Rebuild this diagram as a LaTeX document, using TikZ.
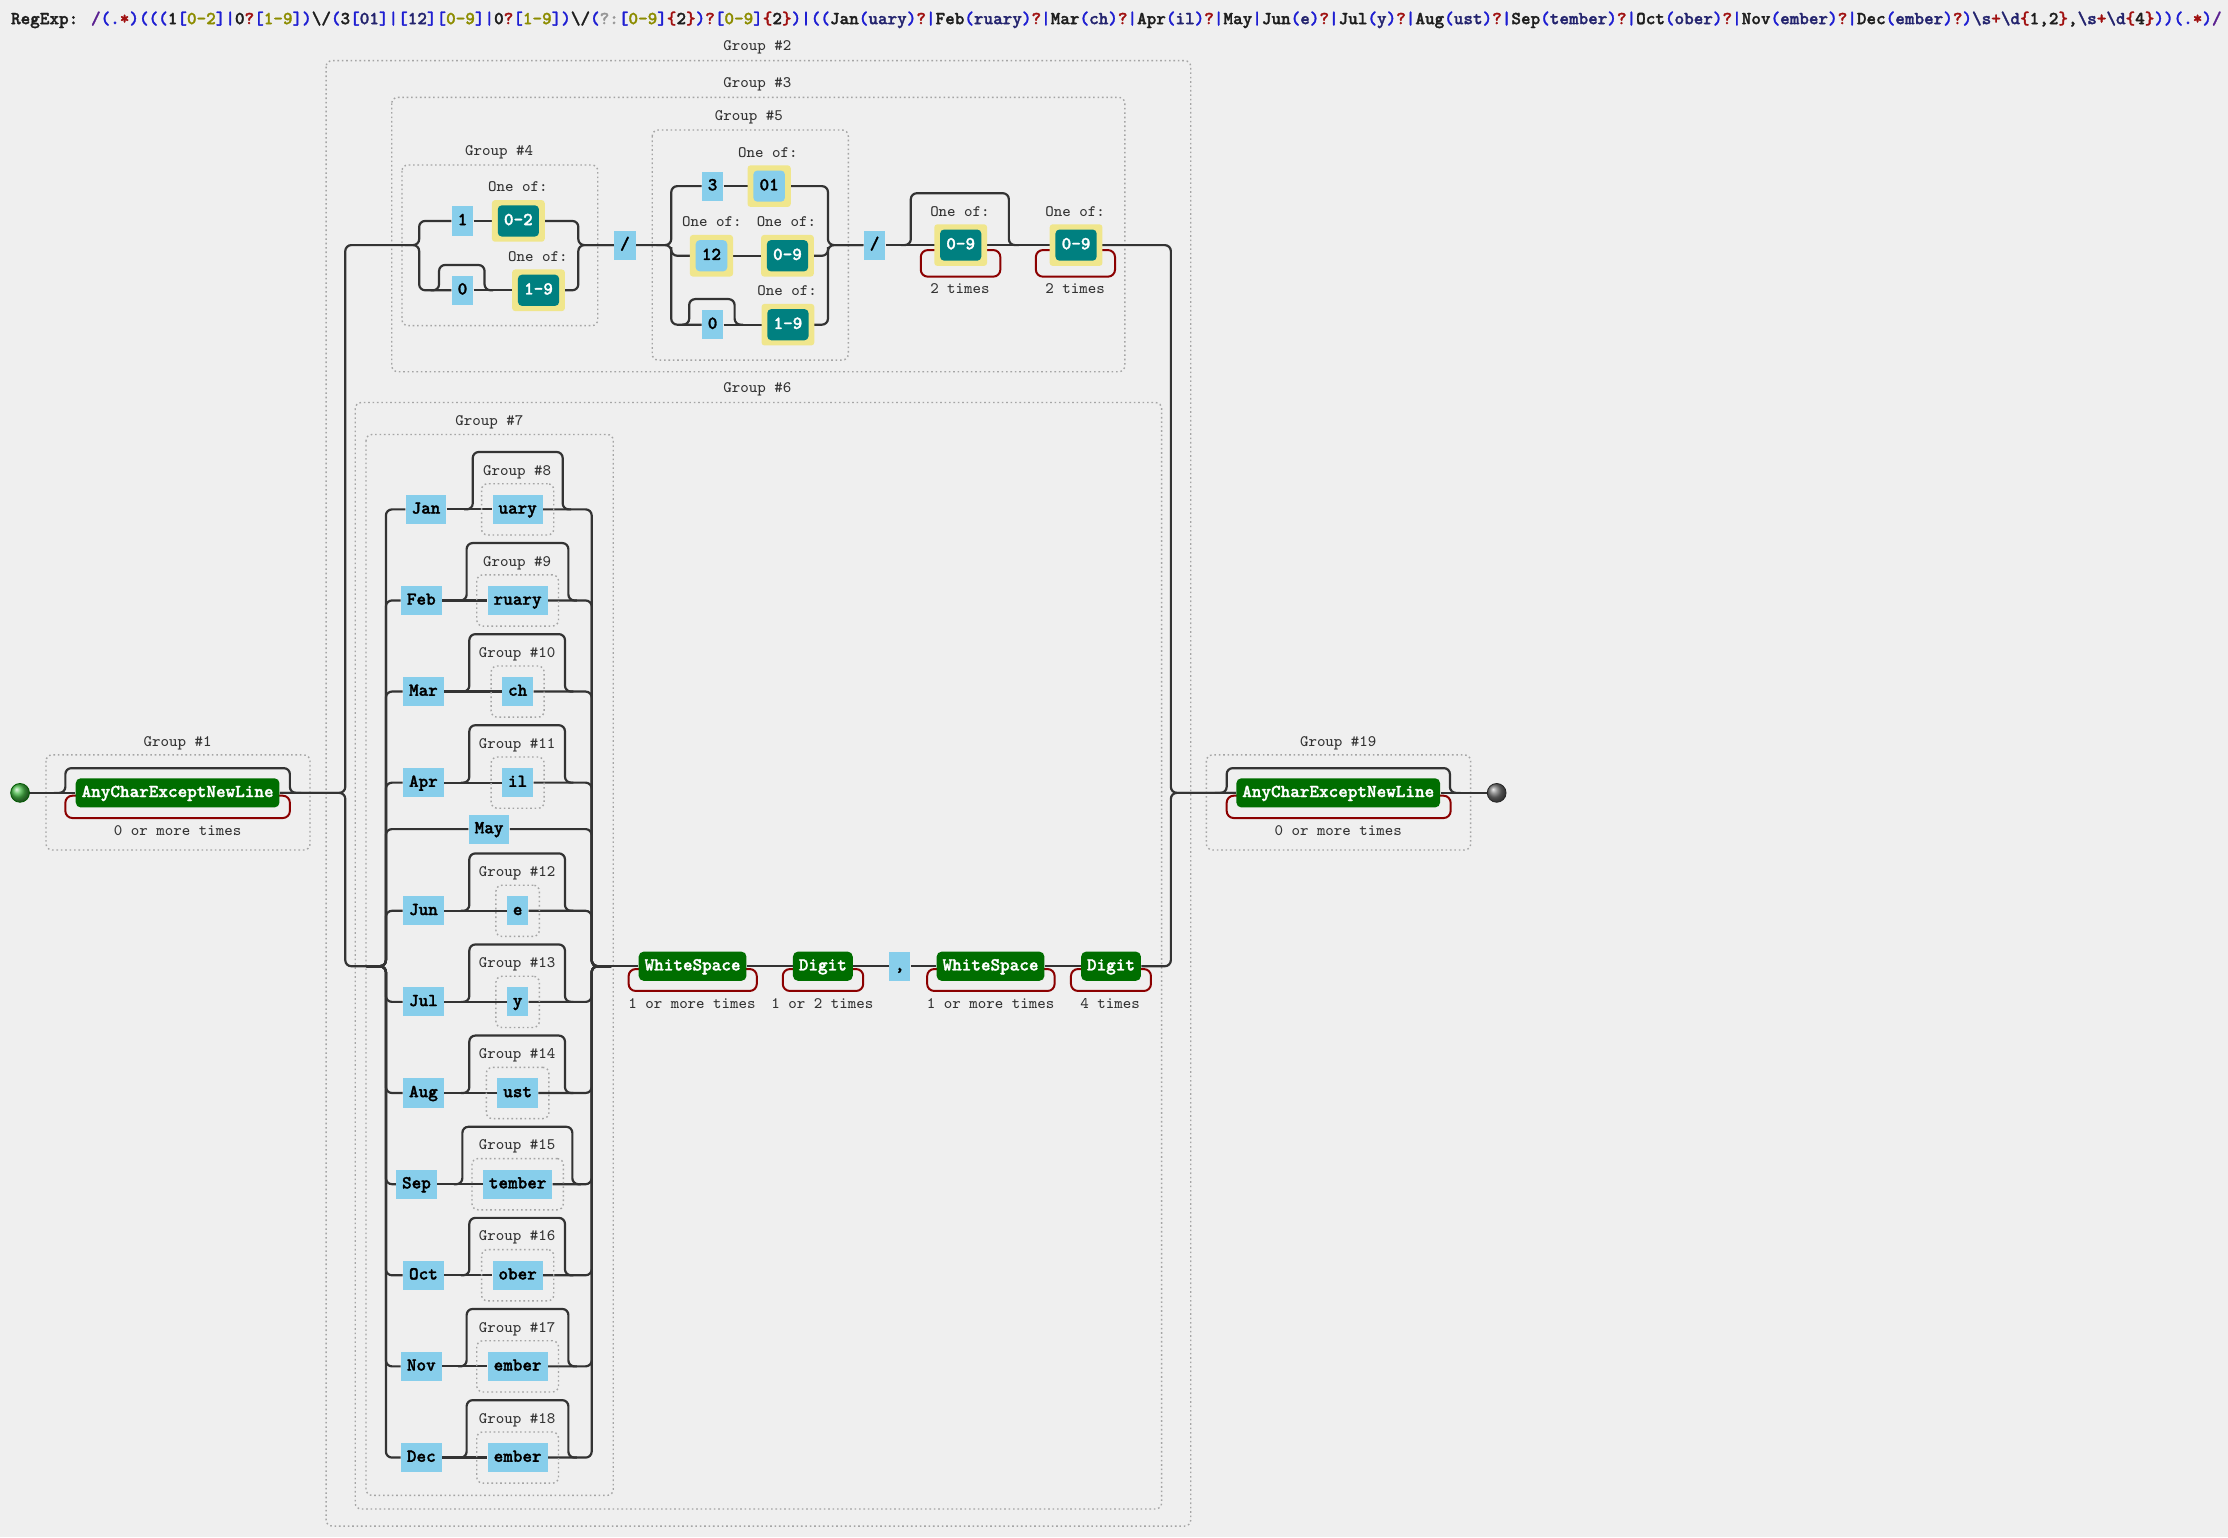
\documentclass[tikz,border=0pt]{standalone}
\usepackage{fontspec}
\newfontfamily\boldtt{lmmonolt10-bold.otf}[FakeBold=1.6]
\usetikzlibrary{backgrounds,fit}
\definecolor{bgc}{RGB}{239,239,239}
\definecolor{lnc}{RGB}{51,51,51}
\definecolor{grpc}{RGB}{165,165,165}
\definecolor{litc}{RGB}{135,206,235}
\definecolor{tealc}{RGB}{0,128,128}
\definecolor{khakic}{RGB}{240,230,140}
\definecolor{greenc}{RGB}{0,110,0}
\definecolor{redc}{RGB}{139,0,0}
\definecolor{startc}{RGB}{70,185,70}
\definecolor{rxB}{RGB}{30,30,210}
\definecolor{rxR}{RGB}{160,16,16}
\definecolor{rxO}{RGB}{140,140,0}
\definecolor{rxN}{RGB}{36,36,110}
\definecolor{rxP}{RGB}{90,32,144}
\definecolor{rxG}{RGB}{150,150,150}
\definecolor{rxK}{RGB}{30,30,30}
\newcommand\xB[1]{\textcolor{rxB}{#1}}
\newcommand\xR[1]{\textcolor{rxR}{#1}}
\newcommand\xO[1]{\textcolor{rxO}{#1}}
\newcommand\xN[1]{\textcolor{rxN}{#1}}
\newcommand\xP[1]{\textcolor{rxP}{#1}}
\newcommand\xG[1]{\textcolor{rxG}{#1}}
\tikzset{
  conn/.style={draw=lnc, line width=1.1pt, rounded corners=3pt},
  loopc/.style={draw=redc, line width=1pt, rounded corners=3.5pt},
  grp/.style={draw=grpc, line width=0.7pt, dash pattern=on 0.8pt off 1.4pt, rounded corners=3pt},
  glabel/.style={font=\ttfamily\fontsize{8}{9}\selectfont, text=lnc, inner sep=0pt, text height=5pt, text depth=1.4pt},
  lit/.style={fill=litc, inner xsep=2.95pt, inner ysep=0pt, minimum height=14.6pt, text height=5.8pt, text depth=1.6pt, font=\boldtt\fontsize{9.14}{10}\selectfont, text=black},
  esc/.style={lit, fill=greenc, text=white, rounded corners=2.5pt},
  tealbox/.style={lit, fill=tealc, text=white, rounded corners=2pt, inner xsep=3.1pt, minimum height=15.6pt},
  lbin/.style={lit, rounded corners=2pt, inner xsep=3.1pt, minimum height=15.6pt},
  yframe/.style={lit, fill=khakic, rounded corners=1.5pt, inner xsep=6pt, minimum height=20.8pt},
}
\newcommand\oneofbox[4]{%
  \node[yframe] (#1f) at (#2) {\phantom{#3}};
  \node[#4] (#1) at (#2) {#3};}
\newcommand\redloop[4]{\draw[loopc] (#2-14,#3) -| (#2,#4) -| (#1,#3) -- (#1+14,#3);}
\newcommand\monthrow[8]{%
  \node[lit] (#1) at (#2,#6) {#3};
  \node[lit] (gp#4) at (364.3,#6) {#5};
  \node[grp, fit=(gp#4), inner sep=5.3pt] (gp#4box) {};
  \node[glabel] (gp#4lbl) at (364,#6-26.7) {Group \##4};
  \coordinate (gp#4a) at (#7-6,#6);
  \coordinate (gp#4l) at (#7,#6-40.4);
  \coordinate (gp#4r) at (#8,#6-40.4);
  \coordinate (gp#4b) at (#8+6,#6);
  \begin{scope}[on background layer]
    \draw[conn] (g7in) -- (vL) |- (#1.west);
    \draw[conn] (#1.east) -- (gp#4.west);
    \draw[conn] (gp#4.east) -| (vR) -- (vRo);
    \draw[conn] (gp#4a) -| (gp#4l) -- (gp#4r) |- (gp#4b);
  \end{scope}}
\begin{document}
\begin{tikzpicture}[x=0.71045pt,y=-0.71045pt]
\useasboundingbox (0,0) rectangle (1568,1082);
\begin{scope}[on background layer]
  \fill[bgc] (0,0) rectangle (1568,1082);
  \draw[grp] (229.5,42.7) rectangle (838,1074);
  \draw[grp] (275.7,68.5) rectangle (791.6,261.6);
  \draw[grp] (282.9,116.1) rectangle (420.7,229.2);
  \draw[grp] (459,91.5) rectangle (597,253.4);
  \draw[grp] (250,283.3) rectangle (817.5,1062);
  \draw[grp] (257.6,305.8) rectangle (431.6,1052.4);
  \draw[grp] (32.4,531.3) rectangle (218.2,598.2);
  \draw[grp] (849,531.3) rectangle (1035,598.2);
\end{scope}

% header
\node[anchor=base west, inner sep=0pt, font=\boldtt\fontsize{9.14}{10}\selectfont, text=rxK] (hdr) at (7.5,17) {RegExp: \xP{/}\xB{(}\xB{.}\xR{*}\xB{)}\xB{(((}1\xB{[}\xO{0-2}\xB{]|}0\xR{?}\xB{[}\xO{1-9}\xB{])}\textbackslash/\xB{(}3\xB{[}\xN{01}\xB{]|[}\xN{12}\xB{][}\xO{0-9}\xB{]|}0\xR{?}\xB{[}\xO{1-9}\xB{])}\textbackslash/\xB{(}\xG{?:}\xB{[}\xO{0-9}\xB{]}\xR{\{}2\xR{\}}\xB{)}\xR{?}\xB{[}\xO{0-9}\xB{]}\xR{\{}2\xR{\}}\xB{)|((}Jan\xB{(}\xN{uary}\xB{)}\xR{?}\xB{|}Feb\xB{(}\xN{ruary}\xB{)}\xR{?}\xB{|}Mar\xB{(}\xN{ch}\xB{)}\xR{?}\xB{|}Apr\xB{(}\xN{il}\xB{)}\xR{?}\xB{|}May\xB{|}Jun\xB{(}\xN{e}\xB{)}\xR{?}\xB{|}Jul\xB{(}\xN{y}\xB{)}\xR{?}\xB{|}Aug\xB{(}\xN{ust}\xB{)}\xR{?}\xB{|}Sep\xB{(}\xN{tember}\xB{)}\xR{?}\xB{|}Oct\xB{(}\xN{ober}\xB{)}\xR{?}\xB{|}Nov\xB{(}\xN{ember}\xB{)}\xR{?}\xB{|}Dec\xB{(}\xN{ember}\xB{)}\xR{?}\xB{)}\xN{\textbackslash s}\xR{+}\xN{\textbackslash d}\xR{\{}1,2\xR{\}},\xN{\textbackslash s}\xR{+}\xN{\textbackslash d}\xR{\{}4\xR{\}}\xB{))(}\xB{.}\xR{*}\xB{)}\xP{/}};

% group labels
\node[glabel] (l2) at (533,33.3) {Group \#2};
\node[glabel] (l3) at (533,59.3) {Group \#3};
\node[glabel] (l4) at (351.2,106.7) {Group \#4};
\node[glabel] (l5) at (527,82.6) {Group \#5};
\node[glabel] (l6) at (533,273.5) {Group \#6};
\node[glabel] (l7) at (344.4,297) {Group \#7};
\node[glabel] (l1) at (125,523.1) {Group \#1};
\node[glabel] (l19) at (941.8,523.1) {Group \#19};

% start / end
\node[circle, minimum size=9.4pt, inner sep=0pt, shade, ball color=startc, draw=green!35!black, line width=0.4pt] (start) at (14.1,558) {};
\node[circle, minimum size=9.4pt, inner sep=0pt, shade, ball color=black!55, draw=black!85, line width=0.4pt] (end) at (1053.3,558) {};

% group 1 and 19
\node[esc] (g1n) at (125,558) {AnyCharExceptNewLine};
\node[glabel] (g1t) at (125,585.3) {0 or more times};
\node[esc] (g19n) at (941.8,558) {AnyCharExceptNewLine};
\node[glabel] (g19t) at (941.8,585.3) {0 or more times};

% group 4
\node[lit] (n1) at (325.5,155.5) {1};
\oneofbox{n02}{364.8,155.5}{0-2}{tealbox}
\node[glabel] (o1) at (364.5,132) {One of:};
\node[lit] (n0a) at (325.5,204.3) {0};
\oneofbox{n19a}{379,204.3}{1-9}{tealbox}
\node[glabel] (o2) at (378.6,181.3) {One of:};
\node[lit] (sl1) at (439.8,172.5) {/};

% group 5
\node[lit] (n3) at (501.5,131) {3};
\oneofbox{n01}{541.3,131}{01}{lbin}
\node[glabel] (o3) at (540.4,108.6) {One of:};
\oneofbox{n12}{500.7,180}{12}{lbin}
\node[glabel] (o4) at (501,157) {One of:};
\oneofbox{n09a}{554.2,180}{0-9}{tealbox}
\node[glabel] (o5) at (553.5,157) {One of:};
\node[lit] (n0b) at (501.5,228.5) {0};
\oneofbox{n19b}{554.5,228.5}{1-9}{tealbox}
\node[glabel] (o6) at (554,205.3) {One of:};
\node[lit] (sl2) at (615.5,172.5) {/};

% year
\oneofbox{n09b}{676.1,172.5}{0-9}{tealbox}
\node[glabel] (o7) at (675.6,149.7) {One of:};
\node[glabel] (t1) at (675.6,204) {2 times};
\oneofbox{n09c}{757.3,172.5}{0-9}{tealbox}
\node[glabel] (o8) at (756.6,149.7) {One of:};
\node[glabel] (t2) at (756.6,204) {2 times};

% sequence after months
\node[esc] (ws1) at (487.4,680) {WhiteSpace};
\node[glabel] (q1) at (487,707.3) {1 or more times};
\node[esc] (dg1) at (579.1,680) {Digit};
\node[glabel] (q2) at (578.7,707.3) {1 or 2 times};
\node[lit] (comma) at (633.2,680) {,};
\node[esc] (ws2) at (697.1,680) {WhiteSpace};
\node[glabel] (q3) at (697.1,707.3) {1 or more times};
\node[esc] (dg2) at (781.9,680) {Digit};
\node[glabel] (q4) at (781.2,707.3) {4 times};

% junction coordinates
\coordinate (jLt) at (243,172.5);
\coordinate (jLb) at (243,680);
\coordinate (g4L) at (295,172.5);
\coordinate (g4in) at (285,172.5);
\coordinate (g4R) at (407,172.5);
\coordinate (g5L) at (472.4,172.5);
\coordinate (g5in) at (462,172.5);
\coordinate (g5mL) at (472.4,174);
\coordinate (g5R) at (582.7,172.5);
\coordinate (g5mR) at (582.7,174);
\coordinate (g7in) at (258,680);
\coordinate (vL) at (271.6,680);
\coordinate (vR) at (416.4,680);
\coordinate (vRo) at (430,680);
\coordinate (jR) at (824,558);
\coordinate (b4a) at (303,204.3);
\coordinate (b4l) at (309,186.5);
\coordinate (b4r) at (341,186.5);
\coordinate (b4b) at (347,204.3);
\coordinate (b5a) at (480,228.5);
\coordinate (b5l) at (485,210.5);
\coordinate (b5r) at (517,210.5);
\coordinate (b5b) at (523,228.5);
\coordinate (ska) at (634,172.5);
\coordinate (skl) at (641,136);
\coordinate (skr) at (710,136);
\coordinate (skb) at (717,172.5);
\coordinate (s1a) at (38,558);
\coordinate (s1l) at (46,540.6);
\coordinate (s1r) at (204,540.6);
\coordinate (s1b) at (212,558);
\coordinate (s19a) at (855,558);
\coordinate (s19l) at (863.3,540.6);
\coordinate (s19r) at (1020.4,540.6);
\coordinate (s19b) at (1028,558);

% months
\monthrow{jan}{299.8}{Jan}{8}{uary}{358.5}{332.7}{396}
\monthrow{feb}{296.5}{Feb}{9}{ruary}{422.6}{328.4}{400}
\monthrow{mar}{298}{Mar}{10}{ch}{486.7}{330.3}{397.6}
\monthrow{apr}{298}{Apr}{11}{il}{550.8}{330.3}{397.6}
\monthrow{jun}{298}{Jun}{12}{e}{641}{330.3}{397.6}
\monthrow{jul}{298}{Jul}{13}{y}{705.1}{330.3}{397.6}
\monthrow{aug}{298}{Aug}{14}{ust}{769.2}{330.3}{397.6}
\monthrow{sep}{293.1}{Sep}{15}{tember}{833.4}{325.4}{402.8}
\monthrow{oct}{298}{Oct}{16}{ober}{897.5}{330.3}{397.6}
\monthrow{nov}{296.5}{Nov}{17}{ember}{961.6}{328.4}{400}
\monthrow{dec}{296.5}{Dec}{18}{ember}{1025.8}{328.4}{400}
\node[lit] (may) at (344.2,583.5) {May};

\begin{scope}[on background layer]
  % main line, group 1
  \draw[conn] (start.east) -- (g1n.west);
  \draw[conn] (s1a) -| (s1l) -- (s1r) |- (s1b);
  \redloop{46}{204}{560}{575.7}
  % split
  \draw[conn] (g1n.east) -| (jLt) -- (g4L) |- (n1.west);
  \draw[conn] (g1n.east) -| (jLb) -- (g7in);
  % group 4
  \draw[conn] (g4in) -- (g4L) |- (n0a.west);
  \draw[conn] (n1.east) -- (n02.west);
  \draw[conn] (n0a.east) -- (n19a.west);
  \draw[conn] (b4a) -| (b4l) -- (b4r) |- (b4b);
  \draw[conn] (n02.east) -| (g4R) -- (sl1.west);
  \draw[conn] (n19a.east) -| (g4R) -- (sl1.west);
  % group 5
  \draw[conn] (sl1.east) -- (g5L) |- (n3.west);
  \draw[conn] (g5in) -- (g5L) |- (n0b.west);
  \draw[conn] (g5mL) |- (n12.west);
  \draw[conn] (n3.east) -- (n01.west);
  \draw[conn] (n12.east) -- (n09a.west);
  \draw[conn] (n0b.east) -- (n19b.west);
  \draw[conn] (b5a) -| (b5l) -- (b5r) |- (b5b);
  \draw[conn] (n01.east) -| (g5R) -- (sl2.west);
  \draw[conn] (n19b.east) -| (g5R) -- (sl2.west);
  \draw[conn] (n09a.east) -| (g5mR);
  % year part
  \draw[conn] (sl2.east) -- (n09b.west);
  \draw[conn] (ska) -| (skl) -- (skr) |- (skb);
  \redloop{648}{704}{176}{194.7}
  \draw[conn] (n09b.east) -- (n09c.west);
  \redloop{729}{784.7}{176}{194.7}
  \draw[conn] (n09c.east) -| (jR) -- (g19n.west);
  % May
  \draw[conn] (g7in) -- (vL) |- (may.west);
  \draw[conn] (may.east) -| (vR) -- (vRo);
  % sequence
  \draw[conn] (vRo) -- (ws1.west);
  \draw[conn] (ws1.east) -- (dg1.west);
  \draw[conn] (dg1.east) -- (comma.west);
  \draw[conn] (comma.east) -- (ws2.west);
  \draw[conn] (ws2.east) -- (dg2.west);
  \draw[conn] (dg2.east) -| (jR) -- (g19n.west);
  \redloop{442.4}{532.6}{682}{697.4}
  \redloop{550.9}{607.5}{682}{697.4}
  \redloop{652.5}{742.2}{682}{697.4}
  \redloop{753.7}{810}{682}{697.4}
  % group 19
  \draw[conn] (s19a) -| (s19l) -- (s19r) |- (s19b);
  \redloop{863.3}{1020.9}{560}{575.7}
  \draw[conn] (g19n.east) -- (end.west);
\end{scope}
\end{tikzpicture}
\end{document}
